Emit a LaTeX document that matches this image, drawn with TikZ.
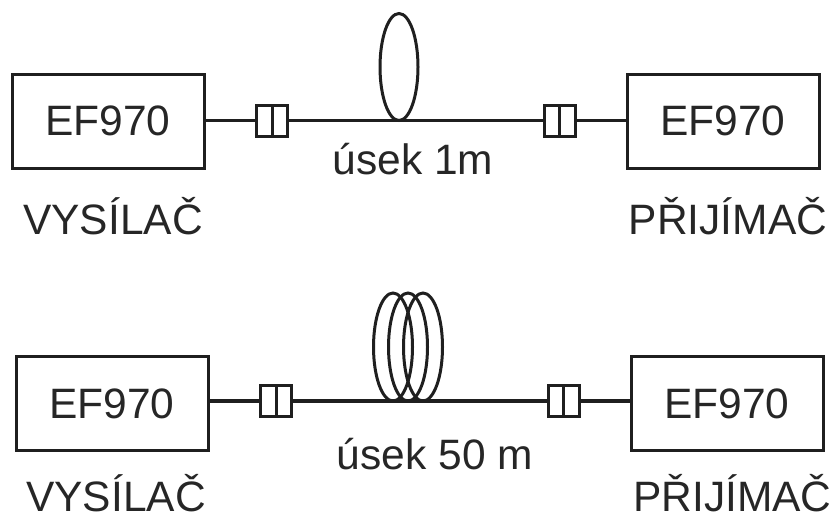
\documentclass[tikz,border=0pt]{standalone}
\usepackage{fontspec}
\setmainfont{Liberation Sans}
\tikzset{
  every node/.style={inner sep=0pt,outer sep=0pt,text=black!85},
  lbl/.style={font=\fontsize{42.5}{42.5}\selectfont,anchor=base},
  unit/.style={draw=black!88,line width=3pt,fill=white,minimum width=192pt,minimum height=94pt,font=\fontsize{42.5}{42.5}\selectfont},
  conn/.style={draw=black!88,line width=3pt,fill=white,minimum width=31pt,minimum height=31pt},
  wire/.style={draw=black!88,line width=3pt},
  coil/.style={draw=black!88,line width=3pt}
}
\begin{document}
\begin{tikzpicture}[x=1pt,y=-1pt]
\useasboundingbox (0,0) rectangle (832,517);
% top
\node[unit] (tx1) at (108,121) {EF970};
\node[unit] (rx1) at (723,121) {EF970};
\node[conn] (ca1) at (272,120.5) {};
\node[conn] (cb1) at (559.5,120.5) {};
\coordinate (m1) at (399,120.5);
\draw[wire] (tx1.east |- ca1) -- (ca1);
\draw[wire] (ca1) -- (m1) -- (cb1);
\draw[wire] (cb1) -- (rx1.west |- cb1);
\draw[wire] (ca1.north) -- (ca1.south);
\draw[wire] (cb1.north) -- (cb1.south);
\draw[coil] (399,67) ellipse [x radius=19,y radius=53.5];
\node[lbl] (t1) at (413,174) {úsek 1m};
\node[lbl] (v1) at (113,234) {VYSÍLAČ};
\node[lbl] (p1) at (728,234) {PŘIJÍMAČ};
% bottom
\node[unit] (tx2) at (112,403.5) {EF970};
\node[unit] (rx2) at (727,403.5) {EF970};
\node[conn] (ca2) at (276,401) {};
\node[conn] (cb2) at (563.5,401) {};
\coordinate (m2) at (408,401);
\draw[wire,line width=3.5pt] (tx2.east |- ca2) -- (ca2);
\draw[wire,line width=3.5pt] (ca2) -- (m2) -- (cb2);
\draw[wire,line width=3.5pt] (cb2) -- (rx2.west |- cb2);
\draw[wire] (ca2.north) -- (ca2.south);
\draw[wire] (cb2.north) -- (cb2.south);
\draw[coil] (393,347) ellipse [x radius=19.5,y radius=54];
\draw[coil] (408,347) ellipse [x radius=19.5,y radius=54];
\draw[coil] (423,347) ellipse [x radius=19.5,y radius=54];
\node[lbl] (t2) at (435,469) {úsek 50 m};
\node[lbl] (v2) at (116,511) {VYSÍLAČ};
\node[lbl] (p2) at (732.5,511) {PŘIJÍMAČ};
\end{tikzpicture}
\end{document}
